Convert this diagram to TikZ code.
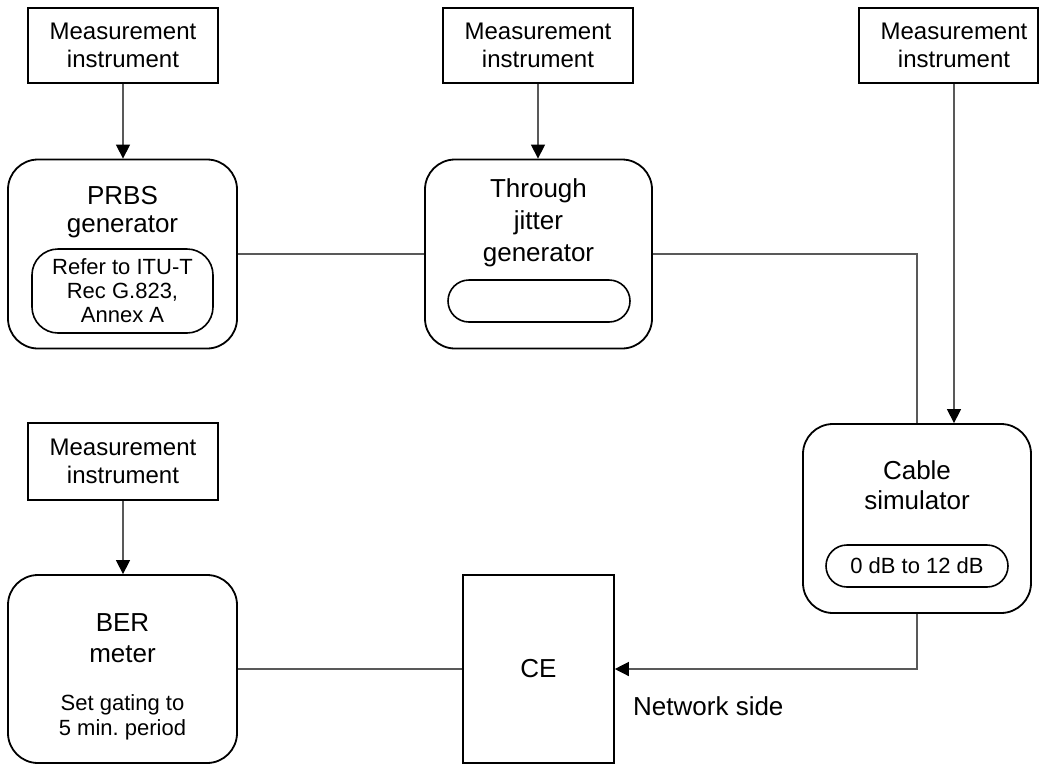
\documentclass[tikz,border=0pt]{standalone}
\usepackage{fontspec}
\setmainfont{Liberation Sans}
\usetikzlibrary{arrows.meta}
\frenchspacing

\tikzset{
  mibox/.style   = {draw, line width=1.6pt, minimum width=190pt, minimum height=75pt,
                    inner sep=0pt, align=center, font=\fontsize{24}{28}\selectfont},
  unitbox/.style = {draw, line width=1.8pt, rounded corners=30pt, minimum width=228pt,
                    minimum height=189pt, inner sep=0pt},
  unittext/.style= {inner sep=0pt, align=center, font=\fontsize{26}{30}\selectfont},
  subbox/.style  = {draw, line width=1.6pt, rounded corners=21pt, minimum width=182pt,
                    minimum height=42pt, inner sep=0pt, align=center,
                    font=\fontsize{22}{24}\selectfont},
  link/.style    = {draw=black!65, line width=1.3pt},
  feed/.style    = {link, -{Triangle[length=14pt,width=14pt,color=black]}}
}

\begin{document}
\begin{tikzpicture}[x=1pt, y=-1pt]
        \useasboundingbox (0,0) rectangle (1039,764);
        % measurement instruments
        \node[mibox] (mi1) at (123,45.5) {Measurement\\instrument};
        \node[mibox] (mi2) at (538,45.5) {Measurement\\instrument};
        \node[mibox, minimum width=179pt] (mi3) at (948.5,45.5)
              {\hspace*{11pt}Measurement\\\hspace*{11pt}instrument};
        \node[mibox, minimum height=77pt] (mi4) at (123,461.5) {Measurement\\instrument};
        % PRBS generator
        \node[unitbox, minimum width=229pt] (prbs) at (122.5,254) {};
        \node[unittext, font=\fontsize{26}{28}\selectfont] (prbstext) at (122.5,212.5) {PRBS\\generator};
        \node[subbox, minimum width=181pt, minimum height=84pt, rounded corners=26pt] (prbssub)
              at (122.5,291) {Refer to ITU-T\\Rec G.823,\\Annex A};
        % through jitter generator
        \node[unitbox, minimum width=227pt] (thru) at (538.5,254) {};
        \node[unittext, font=\fontsize{26}{32}\selectfont] (thrutext) at (538.5,223) {Through\\jitter\\generator};
        \node[subbox] (thrusub) at (539,301) {};
        % cable simulator
        \node[unitbox] (cable) at (917,518.5) {};
        \node[unittext] (cabletext) at (917,485.5) {Cable\\simulator};
        \node[subbox] (cablesub) at (917,566) {0 dB to 12 dB};
        % BER meter
        \node[unitbox, minimum width=229pt, minimum height=188pt] (ber) at (122.5,669) {};
        \node[unittext, font=\fontsize{26}{31}\selectfont] (bertext) at (122.5,638) {BER\\meter};
        \node[unittext, font=\fontsize{22}{25}\selectfont] (bernote) at (122.5,717) {Set gating to\\5 min. period};
        % CE
        \node[draw, line width=1.6pt, minimum width=151pt, minimum height=188pt,
              font=\fontsize{26}{30}\selectfont] (ce) at (538.5,669) {CE};
        \node[anchor=west, inner sep=0pt, font=\fontsize{26}{30}\selectfont] (side) at (633,706.5) {Network side};
        % connectors
        \coordinate (drop) at (954,0);
        \draw[feed] (mi1.south) -- (mi1.south |- prbs.north);
        \draw[feed] (mi2.south) -- (mi2.south |- thru.north);
        \draw[feed] (mi3.south -| drop) -- (cable.north -| drop);
        \draw[feed] (mi4.south) -- (mi4.south |- ber.north);
        \draw[link] (prbs.east) -- (thru.west);
        \draw[link] (thru.east) -| (cable.north);
        \draw[feed] (cable.south) |- (ce.east);
        \draw[link] (ber.east) -- (ce.west);
\end{tikzpicture}
\end{document}
